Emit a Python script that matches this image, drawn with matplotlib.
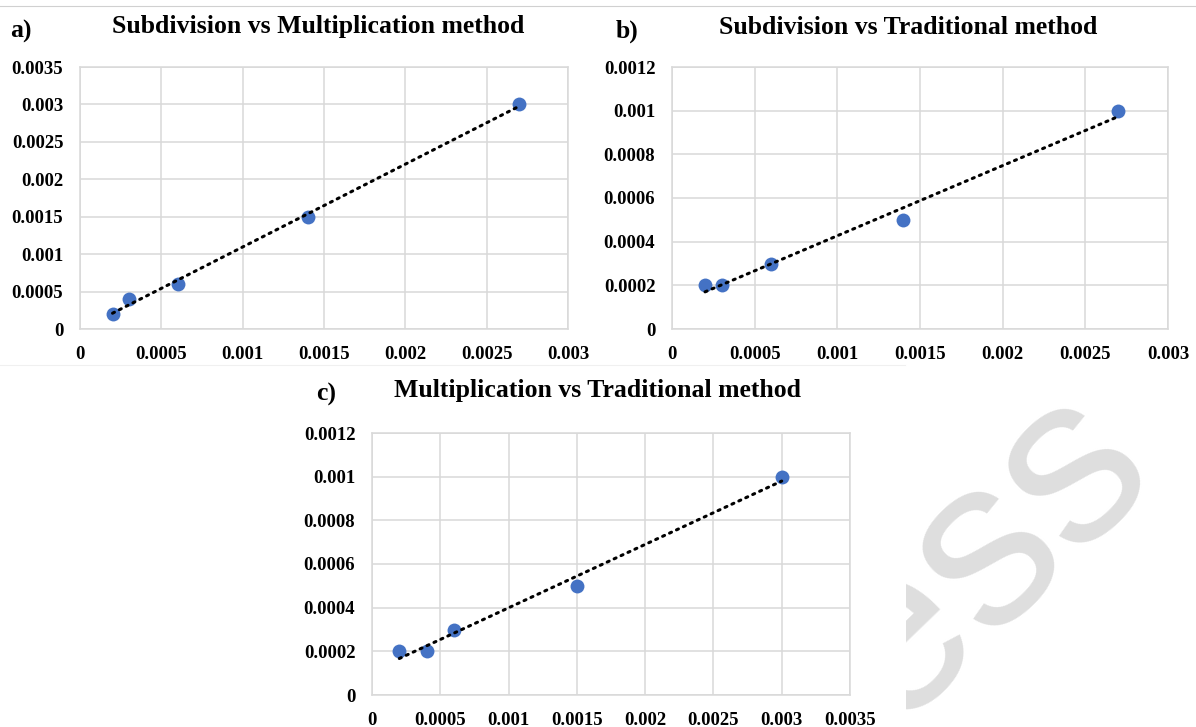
import numpy as np
import matplotlib
matplotlib.use("Agg")
import matplotlib.pyplot as plt
from matplotlib.lines import Line2D

# data
sub_x = [0.0002, 0.0003, 0.0006, 0.0014, 0.0027]
mult_y_a = [0.0002, 0.0004, 0.0006, 0.0015, 0.003]
trad_y_b = [0.0002, 0.0002, 0.0003, 0.0005, 0.001]
mult_x_c = [0.0002, 0.0004, 0.0006, 0.0015, 0.003]
trad_y_c = [0.0002, 0.0002, 0.0003, 0.0005, 0.001]

titles = ["Subdivision vs Multiplication method",
          "Subdivision vs Traditional method",
          "Multiplication vs Traditional method"]
letters = ["a)", "b)", "c)"]

plt.rcParams['font.family'] = ['Liberation Serif', 'DejaVu Serif']

W, H = 1196, 727
fig = plt.figure(figsize=(W / 100, H / 100), dpi=100)
fig.patch.set_facecolor('white')


def px_axes(x0, x1, y_top, y_bot):
    return fig.add_axes([x0 / W, 1 - y_bot / H, (x1 - x0) / W, (y_bot - y_top) / H])


def draw_panel(ax, x, y, xmax, xstep, ymax, ystep):
    ax.scatter(x, y, s=100, color='#4472C4', zorder=3, linewidths=0)
    # linear trendline, like the Excel one
    k, b = np.polyfit(x, y, 1)
    xs = np.array([min(x), max(x)])
    ax.plot(xs, k * xs + b, color='black', linestyle=(0, (0.7, 1.8)),
            linewidth=2.2, zorder=4, dash_capstyle='round')
    ax.set_xlim(0, xmax)
    ax.set_ylim(0, ymax)
    xt = np.round(np.arange(0, xmax + xstep / 2, xstep), 6)
    yt = np.round(np.arange(0, ymax + ystep / 2, ystep), 6)
    ax.set_xticks(xt)
    ax.set_yticks(yt)
    ax.set_xticklabels([format(v, 'g') for v in xt])
    ax.set_yticklabels([format(v, 'g') for v in yt])
    ax.grid(True, color='#d9d9d9', linewidth=1.1)
    ax.set_axisbelow(True)
    for sp in ax.spines.values():
        sp.set_color('#d9d9d9')
        sp.set_linewidth(1.1)
    ax.tick_params(length=0, labelsize=13.5, pad=12)
    for lab in ax.get_xticklabels() + ax.get_yticklabels():
        lab.set_fontweight('bold')


ax_a = px_axes(80, 568, 67, 329)
draw_panel(ax_a, sub_x, mult_y_a, 0.003, 0.0005, 0.0035, 0.0005)
ax_b = px_axes(672, 1168, 67, 329)
draw_panel(ax_b, sub_x, trad_y_b, 0.003, 0.0005, 0.0012, 0.0002)
ax_c = px_axes(372, 850, 433, 695)
draw_panel(ax_c, mult_x_c, trad_y_c, 0.0035, 0.0005, 0.0012, 0.0002)

title_pos = [(318, 27), (908, 27), (598, 390)]
letter_pos = [(10, 31), (616, 31), (316, 394)]
for t, (tx, ty) in zip(titles, title_pos):
    fig.text(tx / W, 1 - ty / H, t, ha='center', va='center',
             fontsize=18.5, fontweight='bold')
for l, (lx, ly) in zip(letters, letter_pos):
    fig.text(lx / W, 1 - ly / H, l, ha='left', va='center',
             fontsize=18.5, fontweight='bold')

# faint frame lines from the source image
fig.add_artist(Line2D([0, 1], [1 - 6 / H, 1 - 6 / H], color='#d0d0d0', linewidth=0.8))
fig.add_artist(Line2D([0, 905 / W], [1 - 365 / H, 1 - 365 / H], color='#f0f0f0', linewidth=0.8))

# watermark in the bottom right corner
wm = px_axes(906, 1196, 362, 727)
wm.set_axis_off()
wm.text((1162 - 906) / (1196 - 906), (727 - 478) / (727 - 362),
        "Access", fontsize=172, family='Liberation Sans', color='#dedede',
        rotation=44, rotation_mode='anchor', ha='right', va='baseline',
        transform=wm.transAxes, clip_on=True, zorder=0)

fig.savefig('out.png', dpi=100, facecolor='white')
